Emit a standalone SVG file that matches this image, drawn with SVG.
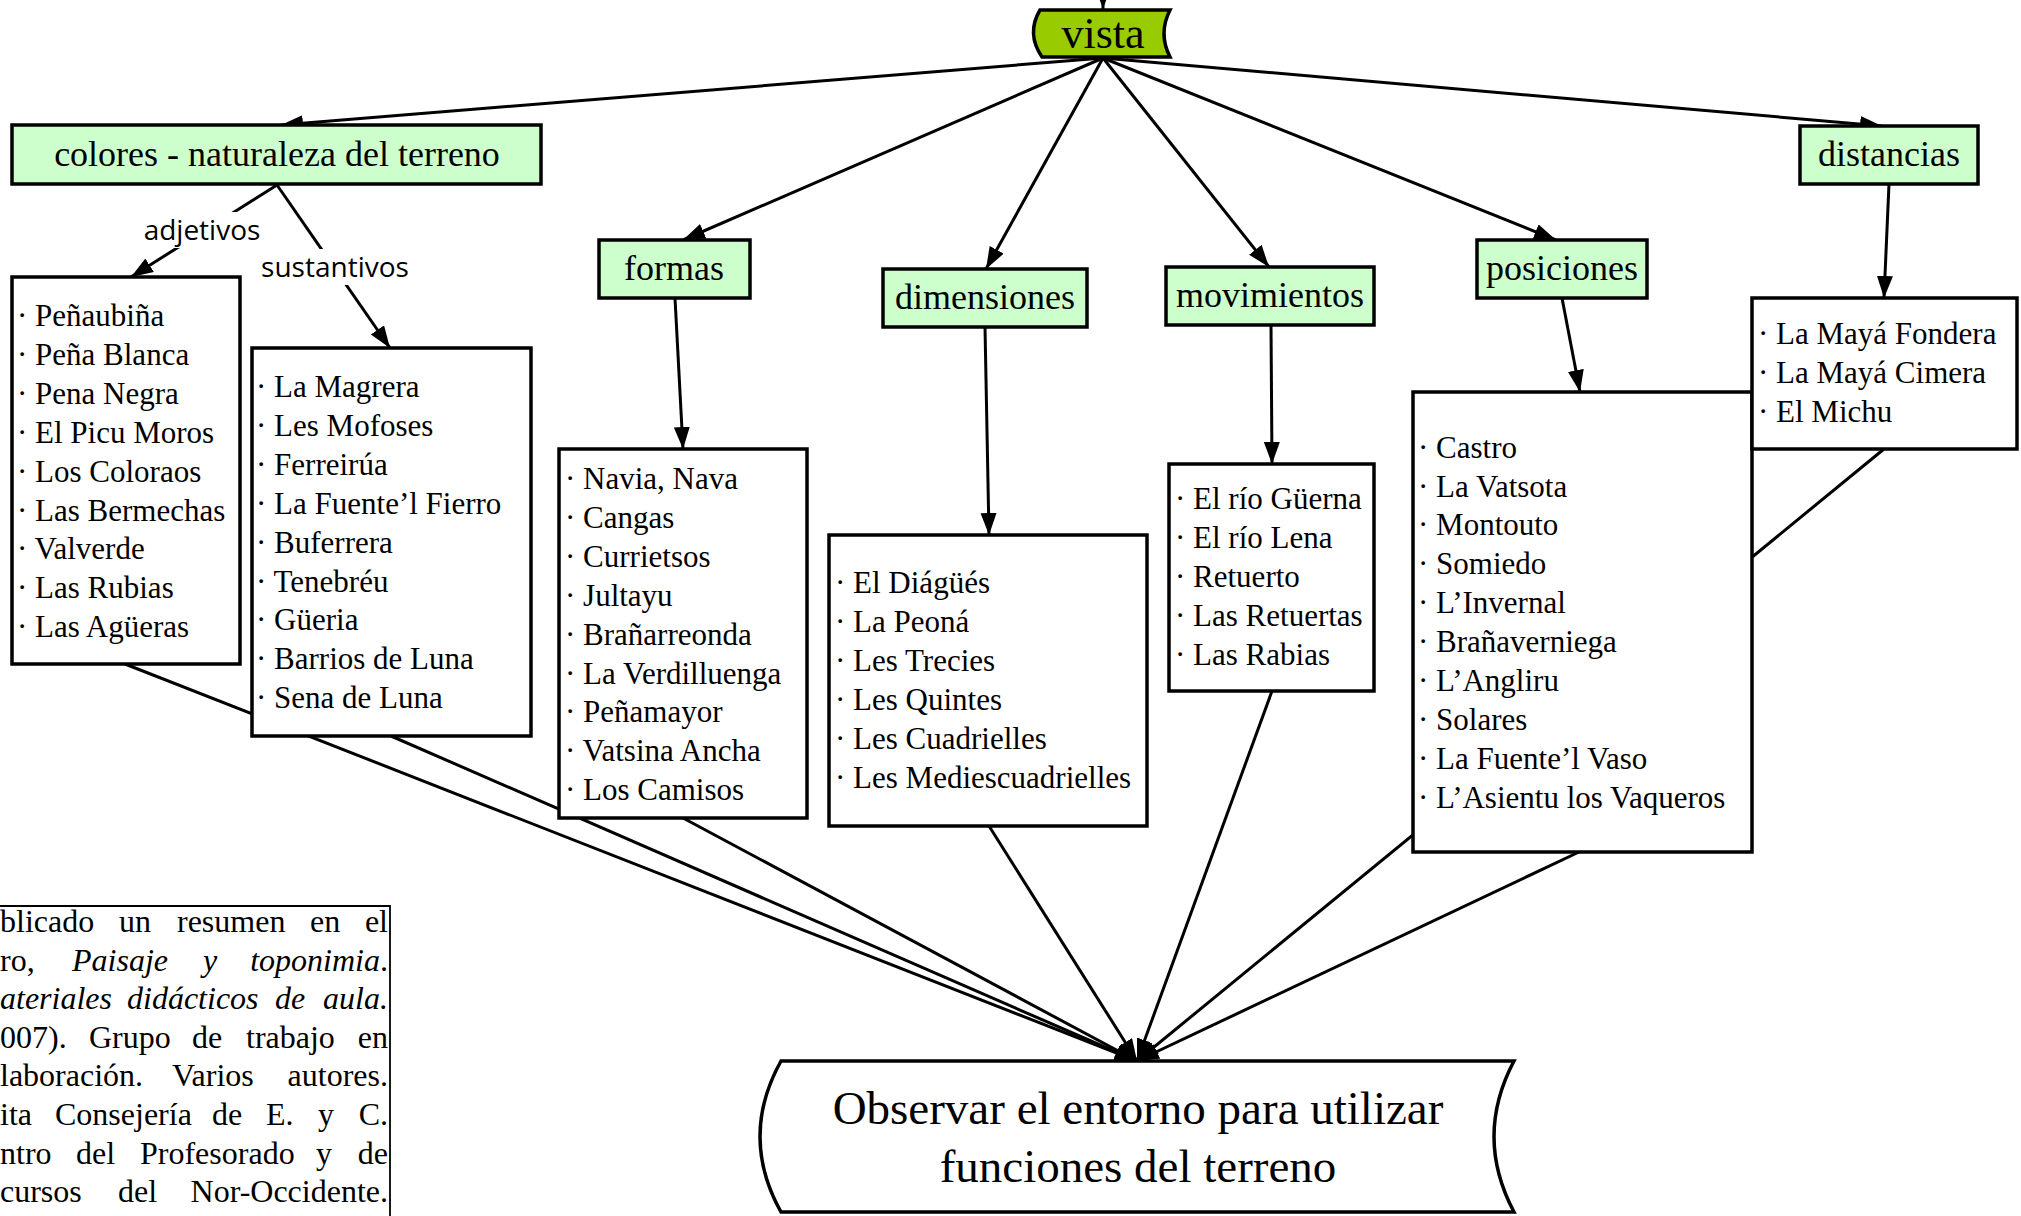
<svg xmlns="http://www.w3.org/2000/svg" width="2021" height="1216" viewBox="0 0 2021 1216">
<defs>
<marker id="arr" markerUnits="userSpaceOnUse" markerWidth="24" markerHeight="18" refX="22" refY="8" orient="auto">
<path d="M0,0 L22,8 L0,16 z" fill="#000"/>
</marker>
<style>
.cn{stroke:#000;stroke-width:3;fill:none}
.ca{stroke:#000;stroke-width:3;fill:none;marker-end:url(#arr)}
.g rect{fill:#CCFFCC;stroke:#000;stroke-width:3.5}
.l rect{fill:#fff;stroke:#000;stroke-width:3.5}
.gt{font-family:"Liberation Serif",serif;font-size:36px;fill:#000;text-anchor:middle}
.lt{font-family:"Liberation Serif",serif;font-size:31px;fill:#000}
.lab{font-family:"Open Sans",sans-serif;font-size:28px;fill:#000;text-anchor:middle}
.ct{font-family:"Liberation Serif",serif;font-size:32px;fill:#000}
.it{font-style:italic}
</style>
</defs>
<rect x="0" y="0" width="2021" height="1216" fill="#fff"/>

<g id="connectors">
<line class="ca" x1="1103" y1="-20" x2="1103" y2="9"/>
<line class="ca" x1="1103" y1="58" x2="281" y2="125"/>
<line class="ca" x1="1103" y1="58" x2="683" y2="240"/>
<line class="ca" x1="1103" y1="58" x2="986" y2="269"/>
<line class="ca" x1="1103" y1="58" x2="1269" y2="267"/>
<line class="ca" x1="1103" y1="58" x2="1556" y2="240"/>
<line class="ca" x1="1103" y1="58" x2="1882" y2="126"/>
<line class="ca" x1="675" y1="298" x2="683" y2="449"/>
<line class="ca" x1="985" y1="327" x2="989" y2="535"/>
<line class="ca" x1="1271" y1="325" x2="1272" y2="464"/>
<line class="ca" x1="1562" y1="298" x2="1580" y2="392"/>
<line class="ca" x1="1889" y1="184" x2="1884" y2="298"/>
<line class="ca" x1="277" y1="185" x2="131" y2="277"/>
<line class="ca" x1="277" y1="185" x2="390" y2="348"/>
<line class="ca" x1="125" y1="664" x2="1137" y2="1061"/>
<line class="ca" x1="391" y1="736" x2="1137" y2="1061"/>
<line class="ca" x1="683" y1="818" x2="1137" y2="1061"/>
<line class="ca" x1="989" y1="826" x2="1137" y2="1061"/>
<line class="ca" x1="1272" y1="691" x2="1137" y2="1061"/>
<line class="ca" x1="1579" y1="852" x2="1137" y2="1061"/>
<line class="ca" x1="1884" y1="449" x2="1137" y2="1061"/>
<rect x="138" y="212" width="128" height="36" fill="#fff"/>
<text class="lab" x="202" y="240">adjetivos</text>
<rect x="256" y="249" width="158" height="36" fill="#fff"/>
<text class="lab" x="335" y="277">sustantivos</text>
</g>

<g id="vista">
<path d="M1040,10 L1170,10 Q1158,33.5 1170,57 L1042,57 Q1026,33.5 1040,10 Z" fill="#99CC00" stroke="#000" stroke-width="3.5"/>
<text class="gt" x="1103" y="48" style="font-size:44px">vista</text>
</g>

<g id="colores" class="g">
<rect x="12" y="125" width="529" height="59"/>
<text class="gt" x="277" y="166">colores - naturaleza del terreno</text>
</g>
<g id="formas" class="g">
<rect x="599" y="240" width="151" height="58"/>
<text class="gt" x="674" y="280">formas</text>
</g>
<g id="dimensiones" class="g">
<rect x="883" y="269" width="204" height="58"/>
<text class="gt" x="985" y="309">dimensiones</text>
</g>
<g id="movimientos" class="g">
<rect x="1166" y="267" width="208" height="58"/>
<text class="gt" x="1270" y="307">movimientos</text>
</g>
<g id="posiciones" class="g">
<rect x="1477" y="240" width="170" height="58"/>
<text class="gt" x="1562" y="280">posiciones</text>
</g>
<g id="distancias" class="g">
<rect x="1800" y="126" width="178" height="58"/>
<text class="gt" x="1889" y="166">distancias</text>
</g>

<g id="lista-adjetivos" class="l">
<rect x="12" y="277" width="228" height="387"/>
<text class="lt">
<tspan x="17" y="326">· Peñaubiña</tspan>
<tspan x="17" y="364.9">· Peña Blanca</tspan>
<tspan x="17" y="403.8">· Pena Negra</tspan>
<tspan x="17" y="442.7">· El Picu Moros</tspan>
<tspan x="17" y="481.6">· Los Coloraos</tspan>
<tspan x="17" y="520.5">· Las Bermechas</tspan>
<tspan x="17" y="559.4">· Valverde</tspan>
<tspan x="17" y="598.3">· Las Rubias</tspan>
<tspan x="17" y="637.2">· Las Agüeras</tspan>
</text>
</g>

<g id="lista-sustantivos" class="l">
<rect x="252" y="348" width="279" height="388"/>
<text class="lt">
<tspan x="256" y="397">· La Magrera</tspan>
<tspan x="256" y="435.9">· Les Mofoses</tspan>
<tspan x="256" y="474.8">· Ferreirúa</tspan>
<tspan x="256" y="513.7">· La Fuente’l Fierro</tspan>
<tspan x="256" y="552.6">· Buferrera</tspan>
<tspan x="256" y="591.5">· Tenebréu</tspan>
<tspan x="256" y="630.4">· Güeria</tspan>
<tspan x="256" y="669.3">· Barrios de Luna</tspan>
<tspan x="256" y="708.2">· Sena de Luna</tspan>
</text>
</g>

<g id="lista-formas" class="l">
<rect x="559" y="449" width="248" height="369"/>
<text class="lt">
<tspan x="565" y="489">· Navia, Nava</tspan>
<tspan x="565" y="527.9">· Cangas</tspan>
<tspan x="565" y="566.8">· Currietsos</tspan>
<tspan x="565" y="605.7">· Jultayu</tspan>
<tspan x="565" y="644.6">· Brañarreonda</tspan>
<tspan x="565" y="683.5">· La Verdilluenga</tspan>
<tspan x="565" y="722.4">· Peñamayor</tspan>
<tspan x="565" y="761.3">· Vatsina Ancha</tspan>
<tspan x="565" y="800.2">· Los Camisos</tspan>
</text>
</g>

<g id="lista-dimensiones" class="l">
<rect x="829" y="535" width="318" height="291"/>
<text class="lt">
<tspan x="835" y="593">· El Diágüés</tspan>
<tspan x="835" y="631.9">· La Peoná</tspan>
<tspan x="835" y="670.8">· Les Trecies</tspan>
<tspan x="835" y="709.7">· Les Quintes</tspan>
<tspan x="835" y="748.6">· Les Cuadrielles</tspan>
<tspan x="835" y="787.5">· Les Mediescuadrielles</tspan>
</text>
</g>

<g id="lista-movimientos" class="l">
<rect x="1169" y="464" width="205" height="227"/>
<text class="lt">
<tspan x="1175" y="509">· El río Güerna</tspan>
<tspan x="1175" y="547.9">· El río Lena</tspan>
<tspan x="1175" y="586.8">· Retuerto</tspan>
<tspan x="1175" y="625.7">· Las Retuertas</tspan>
<tspan x="1175" y="664.6">· Las Rabias</tspan>
</text>
</g>

<g id="lista-posiciones" class="l">
<rect x="1413" y="392" width="339" height="460"/>
<text class="lt">
<tspan x="1418" y="457.6">· Castro</tspan>
<tspan x="1418" y="496.5">· La Vatsota</tspan>
<tspan x="1418" y="535.4">· Montouto</tspan>
<tspan x="1418" y="574.3">· Somiedo</tspan>
<tspan x="1418" y="613.2">· L’Invernal</tspan>
<tspan x="1418" y="652.1">· Brañaverniega</tspan>
<tspan x="1418" y="691">· L’Angliru</tspan>
<tspan x="1418" y="729.9">· Solares</tspan>
<tspan x="1418" y="768.8">· La Fuente’l Vaso</tspan>
<tspan x="1418" y="807.7">· L’Asientu los Vaqueros</tspan>
</text>
</g>

<g id="lista-distancias" class="l">
<rect x="1752" y="298" width="265" height="151"/>
<text class="lt">
<tspan x="1758" y="344">· La Mayá Fondera</tspan>
<tspan x="1758" y="382.9">· La Mayá Cimera</tspan>
<tspan x="1758" y="421.8">· El Michu</tspan>
</text>
</g>

<g id="observar">
<path d="M781,1061 L1514,1061 Q1474,1136.5 1514,1212 L781,1212 Q739,1136.5 781,1061 Z" fill="#fff" stroke="#000" stroke-width="3.5"/>
<text class="gt" x="1138" y="1124" style="font-size:47px">Observar el entorno para utilizar</text>
<text class="gt" x="1138" y="1182" style="font-size:47px">funciones del terreno</text>
</g>

<g id="cita">
<path d="M-5,906 L390,906 L390,1220" fill="none" stroke="#000" stroke-width="1.8"/>
<text class="ct" y="932"><tspan x="0">blicado</tspan><tspan x="119">un</tspan><tspan x="177">resumen</tspan><tspan x="310">en</tspan><tspan x="388" text-anchor="end">el</tspan></text>
<text class="ct" y="970.6"><tspan x="0">ro,</tspan><tspan x="72" class="it">Paisaje</tspan><tspan x="203" class="it">y</tspan><tspan x="388" text-anchor="end"><tspan class="it">toponimia</tspan>.</tspan></text>
<text class="ct it" y="1009.2"><tspan x="0">ateriales</tspan><tspan x="127">didácticos</tspan><tspan x="275">de</tspan><tspan x="388" text-anchor="end">aula.</tspan></text>
<text class="ct" y="1047.8"><tspan x="0">007).</tspan><tspan x="89">Grupo</tspan><tspan x="192">de</tspan><tspan x="246">trabajo</tspan><tspan x="388" text-anchor="end">en</tspan></text>
<text class="ct" y="1086.4"><tspan x="0">laboración.</tspan><tspan x="172">Varios</tspan><tspan x="388" text-anchor="end">autores.</tspan></text>
<text class="ct" y="1125"><tspan x="0">ita</tspan><tspan x="55">Consejería</tspan><tspan x="212">de</tspan><tspan x="266">E.</tspan><tspan x="318">y</tspan><tspan x="388" text-anchor="end">C.</tspan></text>
<text class="ct" y="1163.6"><tspan x="0">ntro</tspan><tspan x="76">del</tspan><tspan x="140">Profesorado</tspan><tspan x="316">y</tspan><tspan x="388" text-anchor="end">de</tspan></text>
<text class="ct" y="1202.2"><tspan x="0">cursos</tspan><tspan x="118">del</tspan><tspan x="388" text-anchor="end">Nor-Occidente.</tspan></text>
</g>
</svg>
